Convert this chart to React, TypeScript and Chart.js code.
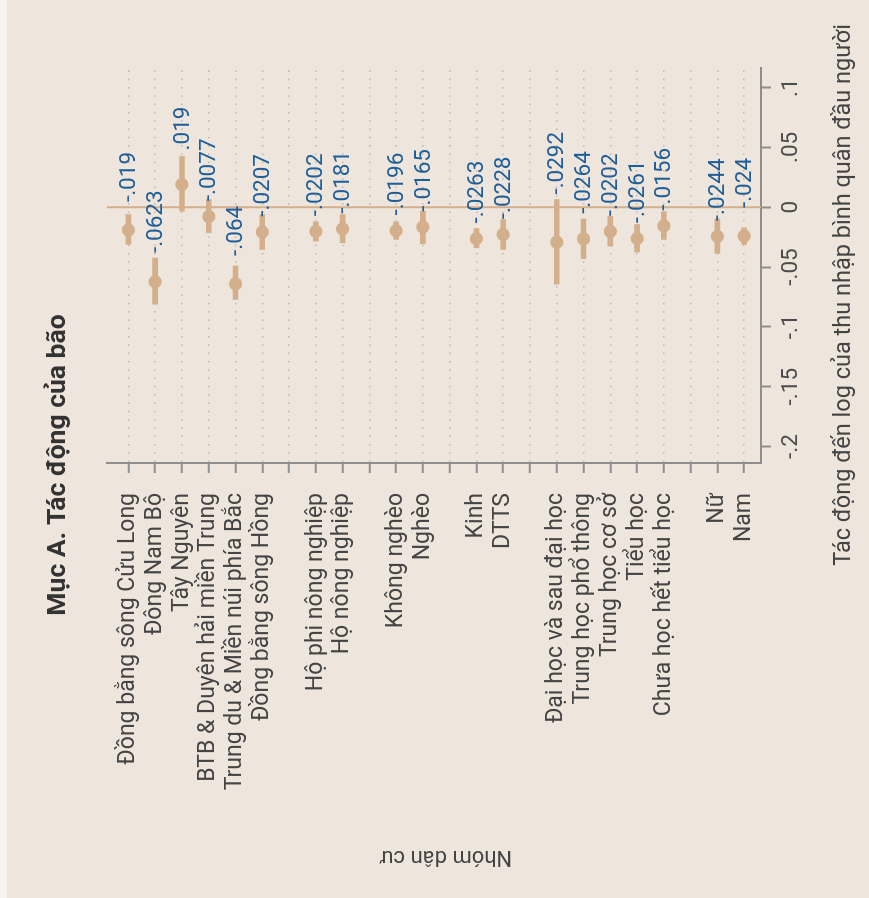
import React, { useEffect, useRef } from 'react';
import { Chart, registerables } from 'chart.js';

Chart.register(...registerables);

// Population groups (empty strings are spacer rows between blocks)
const groups: string[] = [
  'Đồng bằng sông Cửu Long',
  'Đông Nam Bộ',
  'Tây Nguyên',
  'BTB & Duyên hải miền Trung',
  'Trung du & Miền núi phía Bắc',
  'Đồng bằng sông Hồng',
  '',
  'Hộ phi nông nghiệp',
  'Hộ nông nghiệp',
  '',
  'Không nghèo',
  'Nghèo',
  '',
  'Kinh',
  'DTTS',
  '',
  'Đại học và sau đại học',
  'Trung học phổ thông',
  'Trung học cơ sở',
  'Tiểu học',
  'Chưa học hết tiểu học',
  '',
  'Nữ',
  'Nam',
];

// Point estimates of the storm effect on log per-capita income
const estimates: (number | null)[] = [
  -0.019, -0.0623, 0.019, -0.0077, -0.064, -0.0207, null,
  -0.0202, -0.0181, null,
  -0.0196, -0.0165, null,
  -0.0263, -0.0228, null,
  -0.0292, -0.0264, -0.0202, -0.0261, -0.0156, null,
  -0.0244, -0.024,
];

// Confidence interval bounds
const ciLow: (number | null)[] = [
  -0.0311, -0.081, -0.0033, -0.0213, -0.077, -0.0353, null,
  -0.0283, -0.0297, null,
  -0.0269, -0.0305, null,
  -0.0339, -0.0353, null,
  -0.0644, -0.043, -0.0325, -0.0375, -0.0269, null,
  -0.0386, -0.0311,
];
const ciHigh: (number | null)[] = [
  -0.0061, -0.0425, 0.0425, 0.0064, -0.049, -0.0061, null,
  -0.0122, -0.0061, null,
  -0.0122, -0.0033, null,
  -0.0178, -0.0103, null,
  0.0064, -0.0097, -0.0075, -0.0144, -0.0038, null,
  -0.0097, -0.0172,
];

const valueTicks: number[] = [-0.2, -0.15, -0.1, -0.05, 0, 0.05, 0.1];

const chartTitle = 'Mục A. Tác động của bão';
const valueAxisTitle = 'Tác động đến log của thu nhập bình quân đầu người';
const groupAxisTitle = 'Nhóm dân cư';

const BG = '#EEE6DC';
const EDGE = '#F6F2EE';
const TAN = '#D3AF8B';
const BLUE = '#1F5E98';
const AXIS = '#8E8E8E';
const DOTS = '#BDB7AF';
const FONT = 'Roboto';

// Stata-style number format: drop the leading zero
const fmt = (v: number): string => {
  if (v === 0) return '0';
  return String(+v.toFixed(4)).replace(/^(-?)0\./, '$1.');
};

const rows = groups.map((_, i) => i).filter((i) => estimates[i] !== null);

const zeroLine = {
  id: 'zeroLine',
  beforeDatasetsDraw(chart: any) {
    const { ctx, chartArea, scales } = chart;
    const x0 = scales.x.getPixelForValue(0);
    ctx.save();
    ctx.strokeStyle = TAN;
    ctx.lineWidth = 2;
    ctx.beginPath();
    ctx.moveTo(x0, chartArea.top);
    ctx.lineTo(x0, chartArea.bottom);
    ctx.stroke();
    ctx.restore();
  },
};

const LABEL_REACH = 78;

const valueLabels = {
  id: 'valueLabels',
  afterDatasetsDraw(chart: any) {
    const { ctx, scales } = chart;
    ctx.save();
    ctx.font = `22.5px ${FONT}`;
    ctx.fillStyle = BLUE;
    ctx.textAlign = 'left';
    ctx.textBaseline = 'middle';
    rows.forEach((i) => {
      const est = estimates[i] as number;
      const text = fmt(est);
      const w = ctx.measureText(text).width;
      const px = scales.x.getPixelForValue(est);
      const hi = scales.x.getPixelForValue(ciHigh[i] as number);
      let start = px + LABEL_REACH - w;
      if (hi - start > 4) start = hi + 5;
      ctx.fillText(text, start, scales.y.getPixelForValue(i) + 1);
    });
    ctx.restore();
  },
};

const titles = {
  id: 'titles',
  afterDraw(chart: any) {
    const { ctx } = chart;
    ctx.save();
    ctx.fillStyle = '#333333';
    ctx.font = `bold 26.5px ${FONT}`;
    ctx.textAlign = 'center';
    ctx.textBaseline = 'alphabetic';
    ctx.fillText(chartTitle, 433, 65);

    ctx.fillStyle = '#444444';
    ctx.font = `23.5px ${FONT}`;
    ctx.fillText(valueAxisTitle, 603, 850);

    ctx.translate(41, 446);
    ctx.rotate(-Math.PI / 2);
    ctx.font = `22px ${FONT}`;
    ctx.textBaseline = 'middle';
    ctx.fillText(groupAxisTitle, 0, 0);
    ctx.restore();
  },
};

export default function App() {
  const canvasRef = useRef<HTMLCanvasElement | null>(null);

  useEffect(() => {
    const canvas = canvasRef.current;
    if (!canvas) return;
    const chart = new Chart(canvas, {
      type: 'scatter',
      data: {
        datasets: [
          {
            type: 'bar',
            indexAxis: 'y',
            data: rows.map((i) => ({ x: [ciLow[i], ciHigh[i]], y: i })),
            backgroundColor: TAN,
            borderWidth: 0,
            barThickness: 5,
            order: 2,
          } as any,
          {
            type: 'scatter',
            data: rows.map((i) => ({ x: estimates[i], y: i })),
            pointRadius: 6.6,
            pointHoverRadius: 6.6,
            pointBackgroundColor: TAN,
            pointBorderWidth: 0,
            order: 1,
          } as any,
        ],
      },
      options: {
        responsive: false,
        devicePixelRatio: 1,
        animation: false,
        events: [],
        layout: { padding: { left: 0, right: 68, top: 107, bottom: 0 } },
        plugins: {
          legend: { display: false },
          tooltip: { enabled: false },
          title: { display: false },
        },
        scales: {
          x: {
            type: 'linear',
            position: 'bottom',
            min: -0.2138,
            max: 0.1164,
            offset: false,
            afterBuildTicks: (s: any) => {
              s.ticks = valueTicks.map((v) => ({ value: v }));
            },
            afterFit: (s: any) => {
              s.height = 108;
            },
            ticks: {
              autoSkip: false,
              maxRotation: 0,
              minRotation: 0,
              padding: 7,
              color: '#4C4C4C',
              font: { family: FONT, size: 22.5 },
              callback: (v: any) => fmt(Number(v)),
            },
            grid: {
              drawOnChartArea: false,
              drawTicks: true,
              tickLength: 10,
              tickWidth: 2,
              tickColor: AXIS,
              offset: false,
            },
            border: { display: true, color: AXIS, width: 2 },
          },
          y: {
            type: 'linear',
            position: 'left',
            reverse: true,
            min: -0.8,
            max: 23.63,
            offset: false,
            afterBuildTicks: (s: any) => {
              s.ticks = groups.map((_, i) => ({ value: i }));
            },
            afterFit: (s: any) => {
              s.width = 435;
            },
            ticks: {
              autoSkip: false,
              padding: 20,
              color: '#444444',
              font: { family: FONT, size: 23 },
              callback: (v: any) => groups[Number(v)] ?? '',
            },
            grid: {
              drawOnChartArea: true,
              color: DOTS,
              lineWidth: 1.5,
              tickLength: 10,
              tickWidth: 2,
              tickColor: AXIS,
              tickBorderDash: [],
              offset: false,
            },
            border: { display: true, color: AXIS, width: 2, dash: [1.5, 6.8] },
          },
        },
      } as any,
      plugins: [zeroLine, valueLabels, titles],
    });
    return () => chart.destroy();
  }, []);

  return (
    <div
      style={{
        position: 'absolute',
        left: 0,
        top: 0,
        width: 869,
        height: 898,
        background: BG,
        overflow: 'hidden',
      }}
    >
      <div style={{ position: 'absolute', left: 0, top: 0, width: 7, height: 898, background: EDGE }} />
      <div
        style={{
          position: 'absolute',
          left: 0,
          top: 0,
          width: 898,
          height: 869,
          transformOrigin: '0 0',
          transform: 'translate(0px, 898px) rotate(-90deg)',
        }}
      >
        <canvas ref={canvasRef} width={898} height={869} style={{ display: 'block', width: 898, height: 869 }} />
      </div>
    </div>
  );
}
